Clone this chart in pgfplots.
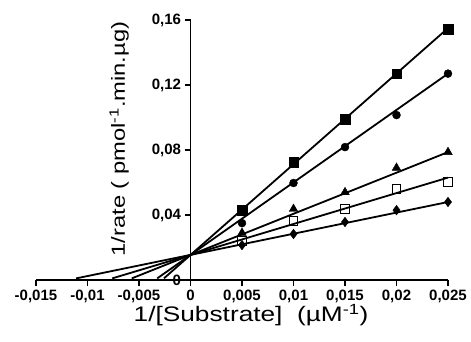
\documentclass[border=0pt]{standalone}
\usepackage{pgfplots}
\pgfplotsset{compat=1.18}
\usepackage{fontspec}
\setmainfont{Liberation Sans}
\newfontfamily\labelfont[FakeStretch=1.25]{Liberation Sans}

\begin{document}
\begin{tikzpicture}
\useasboundingbox (-36pt,-61pt) rectangle (435pt,280pt);
\begin{axis}[
  scale only axis, width=412pt, height=260pt,
  at={(0,0)}, anchor=south west,
  xmin=-0.015, xmax=0.025, ymin=0, ymax=0.16,
  axis lines=middle,
  axis line style={-, line width=1.3pt},
  hide obscured x ticks=false, hide obscured y ticks=false,
  scaled x ticks=false, scaled y ticks=false,
  xtick={-0.015,-0.01,-0.005,0,0.005,0.01,0.015,0.02,0.025},
  xticklabels={{-0,015},{-0,01},{-0,005},0,{0,005},{0,01},{0,015},{0,02},{0,025}},
  ytick={0,0.04,0.08,0.12,0.16},
  yticklabels={0,{0,04},{0,08},{0,12},{0,16}},
  tick align=outside,
  major tick length=6pt,
  tick style={line width=1.2pt, black},
  xticklabel style={font=\bfseries\fontsize{15}{17}\selectfont},
  yticklabel style={font=\bfseries\fontsize{15}{17}\selectfont},
  every axis x label/.style={at={(axis description cs:0.522,-0.1615)}, anchor=base, font=\labelfont\fontsize{21}{24}\selectfont},
  every axis y label/.style={at={(axis description cs:0.216,0.542)}, rotate=90, anchor=base, font=\labelfont\fontsize{19}{22}\selectfont},
  xlabel={1/[Substrate]\ \ (µM\textsuperscript{-1})},
  ylabel={1/rate ( pmol\textsuperscript{-1}.min.µg)},
  clip=false,
]
% regression lines
\addplot[black, line width=1.8pt] coordinates {(-0.00258,0.001) (0.025,0.155)};
\addplot[black, line width=1.8pt] coordinates {(-0.00323,0.001) (0.025,0.127)};
\addplot[black, line width=1.8pt] coordinates {(-0.0057,0.001) (0.025,0.0787)};
\addplot[black, line width=1.8pt] coordinates {(-0.0076,0.001) (0.025,0.063)};
\addplot[black, line width=1.8pt] coordinates {(-0.0111,0.001) (0.025,0.048)};
% data points
\addplot[only marks, mark=square*, mark size=4.8pt, black] coordinates {
  (0.005,0.043) (0.01,0.0726) (0.015,0.099) (0.02,0.127) (0.025,0.1545)};
\addplot[only marks, mark=*, mark size=4pt, black] coordinates {
  (0.005,0.035) (0.01,0.0597) (0.015,0.0818) (0.02,0.1015) (0.025,0.127)};
\addplot[only marks, mark=triangle*, mark size=5pt, black] coordinates {
  (0.005,0.029) (0.01,0.0437) (0.015,0.054) (0.02,0.069) (0.025,0.0787)};
\addplot[only marks, mark=square, mark size=4.2pt, black, mark options={fill=white, line width=0.9pt}] coordinates {
  (0.005,0.024) (0.01,0.0363) (0.015,0.0437) (0.02,0.056) (0.025,0.0603)};
\addplot[only marks, mark=diamond*, mark size=4.8pt, black] coordinates {
  (0.005,0.0215) (0.01,0.0283) (0.015,0.0357) (0.02,0.043) (0.025,0.048)};
\end{axis}
\end{tikzpicture}
\end{document}
